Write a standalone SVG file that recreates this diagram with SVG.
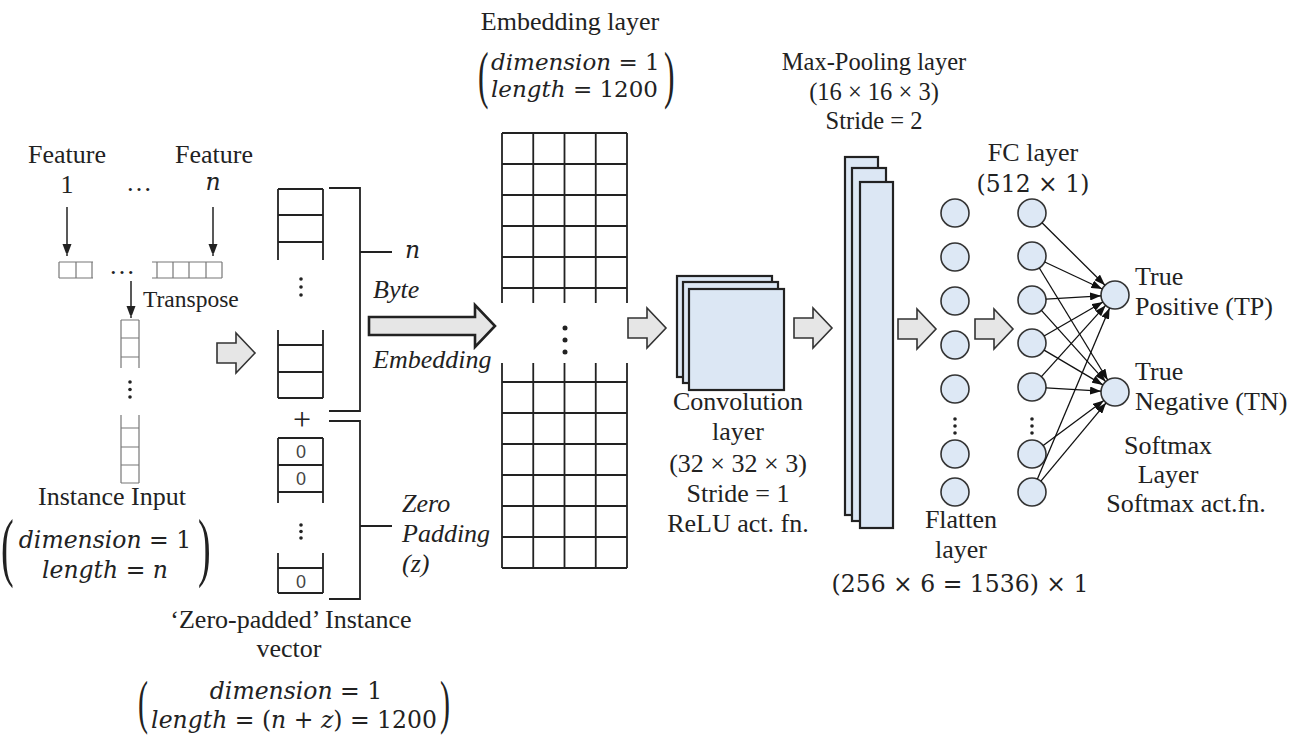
<svg xmlns="http://www.w3.org/2000/svg" width="1296" height="738" viewBox="0 0 1296 738">
<defs>
<style>
.t{font-family:"Liberation Serif","Times New Roman",serif;font-size:26px;fill:#222}
.ti{font-style:italic}
.m{font-family:"DejaVu Serif",serif;font-size:23.5px;font-style:italic;fill:#222}
.mu{font-style:normal}
.par{font-family:"Liberation Serif",serif;fill:#222}
.c{text-anchor:middle}
.box{fill:none;stroke:#222;stroke-width:1.8}
.gbox{fill:none;stroke:#777;stroke-width:1.2}
.blk{fill:#e6e6e6;stroke:#333;stroke-width:1.6}
.layer{fill:#dce7f4;stroke:#222;stroke-width:2.2}
.neuron{fill:#dde8f5;stroke:#333;stroke-width:1.6}
.edge{stroke:#111;stroke-width:1.3;fill:none;marker-end:url(#ah)}
.darr{stroke:#222;stroke-width:1.5;fill:none;marker-end:url(#ah2)}
.dot{fill:#222}
.zero{font-family:"Liberation Sans",Arial,sans-serif;font-size:18px;fill:#444;text-anchor:middle}
</style>
<marker id="ah" markerUnits="userSpaceOnUse" markerWidth="11" markerHeight="8" refX="11" refY="4" orient="auto"><path d="M0,0 L11,4 L0,8 Z" fill="#111"/></marker>
<marker id="ah2" markerUnits="userSpaceOnUse" markerWidth="9" markerHeight="13" refX="12" refY="4.5" orient="auto"><path d="M0,0 L12,4.5 L0,9 Z" fill="#222"/></marker>
<path id="ga" d="M0,-10 H19 V-20 L38,0 L19,20 V10 H0 Z"/>
</defs>
<rect width="1296" height="738" fill="#fff"/>

<g id="features">
<text class="t c" x="67" y="163">Feature</text>
<text class="t c" x="67" y="193">1</text>
<text class="t c" x="139" y="191">…</text>
<text class="t c" x="214" y="163">Feature</text>
<text class="m c" x="213" y="190">n</text>
</g>

<g id="feature-row">
<path class="gbox" d="M59,262 H93 M59,278 H93 M59,262 V278 M76,262 V278 M92,262 V278"/>
<text class="t c" x="122" y="274">…</text>
<path class="gbox" d="M152,262 H222 M152,278 H222 M157,262 V278 M173,262 V278 M189,262 V278 M206,262 V278 M222,262 V278"/>
<text class="t" x="143" y="307" style="font-size:23.5px">Transpose</text>
</g>

<g id="instance-input">
<path class="gbox" d="M121,320 V368 M139,320 V368 M121,320 H139 M121,338 H139 M121,357 H139"/>
<circle class="dot" cx="130" cy="382" r="1.8"/><circle class="dot" cx="130" cy="389.5" r="1.8"/><circle class="dot" cx="130" cy="397" r="1.8"/>
<path class="gbox" d="M121,415 V483 M139,415 V483 M121,428 H139 M121,447 H139 M121,465 H139 M121,483 H139"/>
<text class="t c" x="112" y="505">Instance Input</text>
<text class="par" transform="translate(1,572) scale(0.5,1)" style="font-size:76px">(</text>
<text class="m c" x="105" y="548">dimension <tspan class="mu">= 1</tspan></text>
<text class="m c" x="105" y="578">length <tspan class="mu">=</tspan> n</text>
<text class="par" transform="translate(198,572) scale(0.5,1)" style="font-size:76px">)</text>
</g>

<g id="zero-padded-vector">
<path class="box" d="M278,189 V260 M323,189 V260 M278,189 H323 M278,215 H323 M278,242 H323"/>
<circle class="dot" cx="301" cy="279" r="1.8"/><circle class="dot" cx="301" cy="287" r="1.8"/><circle class="dot" cx="301" cy="295" r="1.8"/>
<path class="box" d="M278,330 V398 M323,330 V398 M278,345 H323 M278,372 H323 M278,398 H323"/>
<path class="box" d="M329,188 H360 V411 H329 M360,252 H392"/>
<text class="m" x="405" y="258">n</text>
<text class="t c" x="302" y="430" style="font-size:32px">+</text>
<path class="box" d="M329,421 H360 V599 H329 M360,526 H392"/>
<path class="box" d="M278,438 V503 M323,438 V503 M278,438 H323 M278,465 H323 M278,492 H323"/>
<text class="zero" x="301" y="458">0</text>
<text class="zero" x="301" y="485">0</text>
<circle class="dot" cx="301" cy="525" r="1.8"/><circle class="dot" cx="301" cy="531.5" r="1.8"/><circle class="dot" cx="301" cy="538" r="1.8"/>
<path class="box" d="M278,553 V593 M323,553 V593 M278,568 H323 M278,593 H323"/>
<text class="zero" x="301" y="588">0</text>
<text class="t ti" x="402" y="512">Zero</text>
<text class="t ti" x="402" y="542">Padding</text>
<text class="t ti" x="402" y="572">(z)</text>
<text class="t c" x="291" y="628">‘Zero-padded’ Instance</text>
<text class="t c" x="289" y="657">vector</text>
<text class="par" transform="translate(138,722) scale(0.5,1)" style="font-size:60px">(</text>
<text class="m c" x="296" y="699">dimension <tspan class="mu">= 1</tspan></text>
<text class="m c" x="294" y="728">length <tspan class="mu">= (</tspan>n <tspan class="mu">+</tspan> z<tspan class="mu">) = 1200</tspan></text>
<text class="par" transform="translate(440,722) scale(0.5,1)" style="font-size:60px">)</text>
</g>

<g id="byte-embedding">
<text class="t ti" x="373" y="298">Byte</text>
<text class="t ti" x="373" y="368">Embedding</text>
</g>

<g id="embedding-layer">
<text class="t c" x="570" y="30">Embedding layer</text>
<text class="par" transform="translate(478,96) scale(0.5,1)" style="font-size:63px">(</text>
<text class="m" x="491" y="70" style="font-size:23px">dimension <tspan class="mu">= 1</tspan></text>
<text class="m" x="491" y="97" style="font-size:23px">length <tspan class="mu">= 1200</tspan></text>
<text class="par" transform="translate(664,96) scale(0.5,1)" style="font-size:63px">)</text>
<path class="box" d="M502,133 V303 M533.25,133 V303 M564.5,133 V303 M595.75,133 V303 M627,133 V303 M502,133 H627 M502,164 H627 M502,195 H627 M502,226 H627 M502,257 H627 M502,288 H627"/>
<circle class="dot" cx="565" cy="328" r="2.5"/><circle class="dot" cx="565" cy="340" r="2.5"/><circle class="dot" cx="565" cy="352" r="2.5"/>
<path class="box" d="M502,363 V568 M533.25,363 V568 M564.5,363 V568 M595.75,363 V568 M627,363 V568 M502,382 H627 M502,413 H627 M502,444 H627 M502,475 H627 M502,506 H627 M502,537 H627 M502,568 H627"/>
</g>

<g id="convolution-layer">
<rect class="layer" x="677" y="276" width="95" height="101"/>
<rect class="layer" x="683" y="282" width="95" height="101"/>
<rect class="layer" x="689" y="289" width="95" height="101"/>
<text class="t c" x="738" y="410">Convolution</text>
<text class="t c" x="738" y="440">layer</text>
<text class="t c" x="738" y="472">(32 × 32 × 3)</text>
<text class="t c" x="738" y="502">Stride = 1</text>
<text class="t c" x="738" y="532">ReLU act. fn.</text>
</g>

<g id="max-pooling-layer">
<text class="t c" x="874" y="70" style="font-size:24.5px">Max-Pooling layer</text>
<text class="t c" x="874" y="100" style="font-size:24.5px">(16 × 16 × 3)</text>
<text class="t c" x="874" y="129" style="font-size:24.5px">Stride = 2</text>
<rect class="layer" x="845" y="157" width="33" height="358"/>
<rect class="layer" x="852" y="168" width="34" height="353"/>
<rect class="layer" x="860" y="182" width="33" height="346"/>
</g>

<g id="flatten-layer">
<circle class="neuron" cx="955" cy="213" r="14"/>
<circle class="neuron" cx="955" cy="257" r="14"/>
<circle class="neuron" cx="955" cy="301" r="14"/>
<circle class="neuron" cx="955" cy="345" r="14"/>
<circle class="neuron" cx="955" cy="389" r="14"/>
<circle class="dot" cx="955" cy="419" r="1.8"/><circle class="dot" cx="955" cy="426" r="1.8"/><circle class="dot" cx="955" cy="433" r="1.8"/>
<circle class="neuron" cx="955" cy="454" r="14"/>
<circle class="neuron" cx="955" cy="492" r="14"/>
<text class="t c" x="961" y="528">Flatten</text>
<text class="t c" x="961" y="558">layer</text>
<text class="m c" x="960" y="592"><tspan class="mu">(256 × 6 = 1536) × 1</tspan></text>
</g>

<g id="fc-layer">
<text class="t c" x="1033" y="161">FC layer</text>
<text class="m c" x="1033" y="192"><tspan class="mu">(512 × 1)</tspan></text>
<circle class="neuron" cx="1032" cy="213" r="14"/>
<circle class="neuron" cx="1032" cy="256" r="14"/>
<circle class="neuron" cx="1032" cy="300" r="14"/>
<circle class="neuron" cx="1032" cy="343" r="14"/>
<circle class="neuron" cx="1032" cy="387" r="14"/>
<circle class="dot" cx="1032" cy="419" r="1.8"/><circle class="dot" cx="1032" cy="426" r="1.8"/><circle class="dot" cx="1032" cy="433" r="1.8"/>
<circle class="neuron" cx="1032" cy="454" r="14"/>
<circle class="neuron" cx="1032" cy="492" r="14"/>
</g>

<g id="output-tp">
<circle class="neuron" cx="1115" cy="295" r="14"/>
<text class="t" x="1135" y="285">True</text>
<text class="t" x="1135" y="315">Positive (TP)</text>
</g>
<g id="output-tn">
<circle class="neuron" cx="1115" cy="392" r="14"/>
<text class="t" x="1135" y="380">True</text>
<text class="t" x="1135" y="410">Negative (TN)</text>
</g>
<g id="softmax-label">
<text class="t c" x="1168" y="454">Softmax</text>
<text class="t c" x="1168" y="483">Layer</text>
<text class="t c" x="1186" y="512">Softmax act.fn.</text>
</g>

<g id="connectors">
<line class="darr" x1="67" y1="207" x2="67" y2="256"/>
<line class="darr" x1="213" y1="207" x2="213" y2="256"/>
<line class="darr" x1="131" y1="281" x2="131" y2="318"/>
<use href="#ga" class="blk" x="217" y="353"/>
<path d="M369,317 H475 V305 L495,326 L475,347 V335 H369 Z" fill="#e6e6e6" stroke="#222" stroke-width="2.6"/>
<use href="#ga" class="blk" x="628" y="328"/>
<use href="#ga" class="blk" x="794" y="328"/>
<use href="#ga" class="blk" x="898" y="329"/>
<use href="#ga" class="blk" x="975" y="329"/>
<line class="edge" x1="1042.0" y1="222.8" x2="1105.0" y2="285.2"/>
<line class="edge" x1="1044.7" y1="262.0" x2="1102.3" y2="289.0"/>
<line class="edge" x1="1039.3" y1="268.0" x2="1107.7" y2="380.0"/>
<line class="edge" x1="1046.0" y1="299.2" x2="1101.0" y2="295.8"/>
<line class="edge" x1="1041.4" y1="310.4" x2="1105.6" y2="381.6"/>
<line class="edge" x1="1044.1" y1="336.0" x2="1102.9" y2="302.0"/>
<line class="edge" x1="1044.1" y1="350.1" x2="1102.9" y2="384.9"/>
<line class="edge" x1="1041.4" y1="376.6" x2="1105.6" y2="305.4"/>
<line class="edge" x1="1046.0" y1="387.8" x2="1101.0" y2="391.2"/>
<line class="edge" x1="1043.2" y1="445.6" x2="1103.8" y2="400.4"/>
<line class="edge" x1="1037.4" y1="479.1" x2="1109.6" y2="307.9"/>
<line class="edge" x1="1040.9" y1="481.2" x2="1106.1" y2="402.8"/>
</g>
</svg>
